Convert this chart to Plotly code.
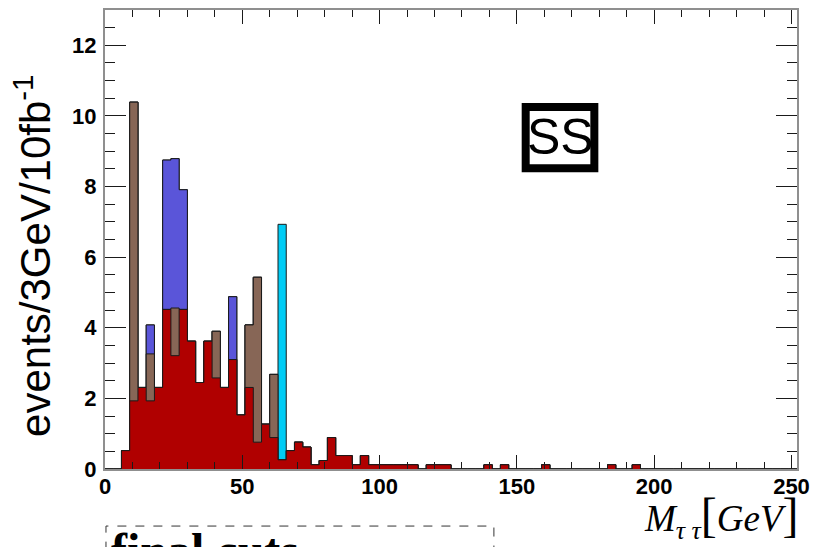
import numpy as np
import plotly.graph_objects as go

# ---------------- data (3 GeV bins, value per bin, keyed by bin low edge) ----------------
bin_width = 3
x_max = 252
red_lo = [6, 9, 12, 15, 18, 21, 24, 27, 30, 33, 36, 39, 42, 45, 48, 51, 54, 57, 60, 63,
          66, 69, 72, 75, 78, 81, 84, 87, 90, 93, 96, 99, 102, 105, 108, 111,
          117, 120, 123, 138, 144, 159, 183, 192]
red_val = [0.52, 1.93, 2.31, 1.93, 2.31, 4.52, 3.21, 4.52, 3.62, 2.45, 3.62, 2.58, 2.31, 3.10,
           1.53, 2.31, 0.76, 1.27, 0.89, 0.26,
           0.52, 0.76, 0.62, 0.12, 0.24, 0.89, 0.38, 0.38, 0.12, 0.38, 0.12, 0.12, 0.12, 0.12,
           0.12, 0.12, 0.12, 0.12, 0.12, 0.12, 0.12, 0.12, 0.12, 0.12]
brown_lo = [9, 15, 24, 39, 51, 54, 60]
brown_val = [8.46, 1.33, 1.35, 1.32, 1.77, 4.67, 1.79]
blue_lo = [15, 21, 24, 27, 45]
blue_val = [0.82, 4.23, 4.23, 3.39, 1.78]
cyan_lo = [63]
cyan_val = [6.67]

x_ticks = [0, 50, 100, 150, 200, 250]
y_ticks = [0, 2, 4, 6, 8, 10, 12]

n_bins = x_max // bin_width
edges = np.arange(0, x_max + bin_width, bin_width)


def dense(lo, val):
    arr = np.zeros(n_bins)
    for l, v in zip(lo, val):
        arr[l // bin_width] = v
    return arr


red = dense(red_lo, red_val)
brown = dense(brown_lo, brown_val)
blue = dense(blue_lo, blue_val)
cyan = dense(cyan_lo, cyan_val)

stack = [
    (red + brown + blue + cyan, "#00ccf5"),
    (red + brown + blue, "#5a55d9"),
    (red + brown, "#876656"),
    (red, "#b00000"),
]

fig = go.Figure()
for vals, col in stack:
    fig.add_trace(go.Scatter(
        x=edges, y=np.append(vals, 0.0),
        mode="lines", line=dict(shape="hv", color="#1a1a1a", width=1),
        fill="tozeroy", fillcolor=col, hoverinfo="skip", showlegend=False,
    ))

tickfont = dict(family="Liberation Sans, Arial, sans-serif", size=22, color="black", weight="bold")
frame = "#8f8f8f"
tickc = "#1a1a1a"

# page body has an 8px margin: figure is shifted by (8, 8) in the window
fig.update_layout(
    width=816, height=539,
    margin=dict(l=97, r=27, t=0, b=78),
    paper_bgcolor="white", plot_bgcolor="white",
    showlegend=False,
    xaxis=dict(
        range=[0, x_max], tickvals=x_ticks, ticks="inside", ticklen=14, tickwidth=1,
        tickcolor=tickc, showline=True, linecolor=frame, linewidth=2, mirror="ticks",
        showgrid=False, zeroline=False, tickfont=tickfont, ticklabelstandoff=-3,
        minor=dict(dtick=10, tick0=0, ticks="inside", ticklen=7, tickwidth=1, tickcolor=tickc, showgrid=False),
    ),
    yaxis=dict(
        range=[0, 13], tickvals=y_ticks, ticks="inside", ticklen=21, tickwidth=1,
        tickcolor=tickc, showline=True, linecolor=frame, linewidth=2, mirror="ticks",
        showgrid=False, zeroline=False, tickfont=tickfont, ticklabelstandoff=2,
        minor=dict(dtick=0.5, tick0=0, ticks="inside", ticklen=10, tickwidth=1, tickcolor=tickc, showgrid=False),
    ),
)

# "SS" box
fig.add_shape(type="rect", xref="x", yref="y", x0=153.2, x1=178.2, y0=8.52, y1=10.25,
              line=dict(color="black", width=8), fillcolor="white", layer="above")
fig.add_annotation(x=165.7, y=9.40, xref="x", yref="y", text="SS", showarrow=False,
                   font=dict(family="Liberation Sans, Arial, sans-serif", size=50, color="black"))

# y-axis title
fig.add_annotation(x=-0.105, y=0.465, xref="paper", yref="paper", textangle=-90,
                   xanchor="center", yanchor="middle",
                   text="events/3GeV/10fb<sup>-1</sup>", showarrow=False,
                   font=dict(family="Liberation Sans, Arial, sans-serif", size=42, color="black"))

# x-axis title
fig.add_annotation(x=1.006, y=-0.103, xref="paper", yref="paper", xanchor="right", yanchor="middle",
                   text="<i>M</i><sub><i>τ τ</i></sub><span style='font-size:48px'>[</span><i>GeV</i><span style='font-size:48px'>]</span>",
                   showarrow=False,
                   font=dict(family="Liberation Serif, Times New Roman, serif", size=37, color="black"))

# legend box (cut off at bottom)
fig.add_shape(type="rect", xref="paper", yref="paper", x0=0.0014, x1=0.562, y0=-0.40, y1=-0.1243,
              line=dict(color="#333333", width=1, dash="dash"))
fig.add_annotation(x=0.006, y=-0.115, xref="paper", yref="paper", xanchor="left", yanchor="top",
                   text="<b>final cuts</b>", showarrow=False,
                   font=dict(family="Liberation Serif, Times New Roman, serif", size=48, color="black"))

fig.write_html("out.html")
